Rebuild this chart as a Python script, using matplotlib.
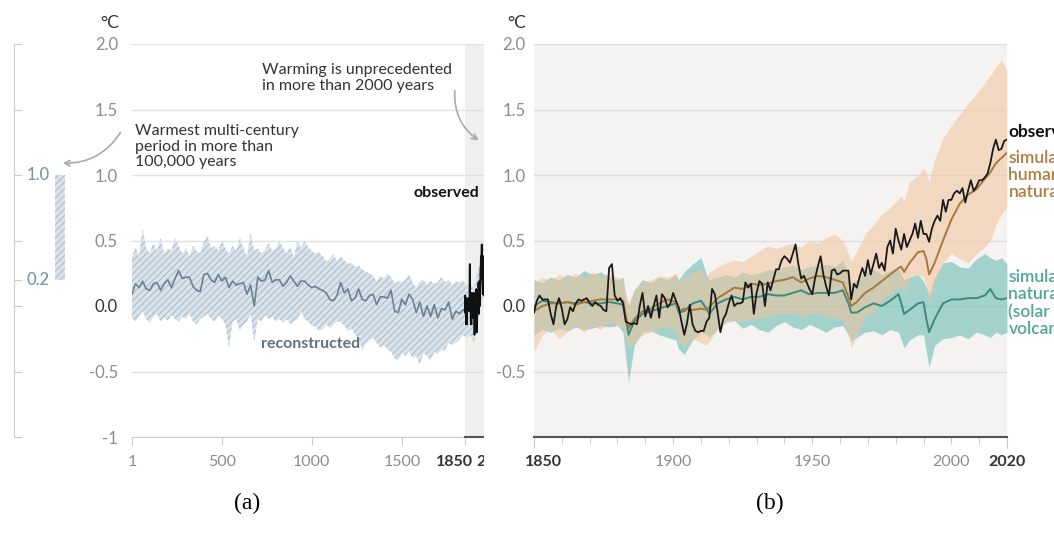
import matplotlib
matplotlib.use("Agg")
import matplotlib.pyplot as plt
from matplotlib.patches import Rectangle
from matplotlib.transforms import ScaledTranslation

plt.rcParams['font.family'] = ['Lato', 'DejaVu Sans']
plt.rcParams['hatch.linewidth'] = 0.7

# ---- panel (a): reconstructed 1-1960 (20-year steps) ----
recon_years = [1] + list(range(20, 1961, 20))
recon_mean = [0.09, 0.17, 0.14, 0.19, 0.13, 0.12, 0.17, 0.18, 0.12, 0.17,
              0.20, 0.14, 0.21, 0.27, 0.21, 0.22, 0.22, 0.15, 0.12, 0.11,
              0.24, 0.25, 0.20, 0.18, 0.24, 0.19, 0.22, 0.14, 0.19, 0.16,
              0.17, 0.18, 0.09, 0.16, 0.00, 0.22, 0.19, 0.20, 0.27, 0.18,
              0.20, 0.20, 0.15, 0.18, 0.23, 0.19, 0.15, 0.19, 0.19, 0.16,
              0.14, 0.15, 0.13, 0.12, 0.10, 0.05, 0.04, 0.08, 0.18, 0.10,
              0.13, 0.04, 0.06, 0.13, 0.05, 0.04, 0.08, 0.09, 0.01, 0.07,
              0.07, 0.06, 0.12, -0.04, -0.05, 0.05, 0.01, 0.09, 0.05, -0.05,
              0.03, -0.08, 0.00, -0.08, 0.01, -0.09, -0.02, -0.03, 0.03, -0.10,
              -0.04, -0.06, -0.03, -0.04, 0.00, -0.05, 0.02, 0.20, 0.35]
recon_hi = [0.37, 0.45, 0.38, 0.59, 0.44, 0.40, 0.48, 0.42, 0.52, 0.40,
            0.44, 0.42, 0.52, 0.46, 0.40, 0.44, 0.38, 0.46, 0.42, 0.40,
            0.49, 0.54, 0.44, 0.46, 0.42, 0.50, 0.44, 0.40, 0.46, 0.42,
            0.52, 0.44, 0.38, 0.56, 0.42, 0.44, 0.40, 0.43, 0.48, 0.42,
            0.44, 0.50, 0.44, 0.40, 0.45, 0.37, 0.50, 0.44, 0.50, 0.45,
            0.42, 0.40, 0.41, 0.38, 0.34, 0.36, 0.40, 0.34, 0.38, 0.35,
            0.32, 0.33, 0.30, 0.31, 0.28, 0.26, 0.25, 0.23, 0.19, 0.23,
            0.21, 0.25, 0.22, 0.17, 0.19, 0.18, 0.20, 0.24, 0.18, 0.14,
            0.19, 0.20, 0.16, 0.19, 0.17, 0.18, 0.22, 0.18, 0.20, 0.16,
            0.19, 0.18, 0.20, 0.15, 0.18, 0.12, 0.25, 0.42, 0.50]
recon_lo = [-0.09, -0.12, -0.08, -0.04, -0.10, -0.13, -0.08, -0.06, -0.12, -0.09,
            -0.11, -0.07, -0.10, -0.12, -0.08, -0.10, -0.06, -0.12, -0.14, -0.10,
            -0.08, -0.06, -0.10, -0.12, -0.07, -0.10, -0.14, -0.32, -0.12, -0.10,
            -0.19, -0.14, -0.12, -0.06, -0.28, -0.10, -0.12, -0.07, -0.10, -0.08,
            -0.12, -0.10, -0.13, -0.10, -0.14, -0.12, -0.10, -0.04, -0.10, -0.12,
            -0.15, -0.16, -0.19, -0.18, -0.14, -0.17, -0.14, -0.12, -0.12, -0.15,
            -0.19, -0.17, -0.22, -0.24, -0.34, -0.29, -0.26, -0.24, -0.28, -0.32,
            -0.30, -0.33, -0.35, -0.40, -0.42, -0.36, -0.38, -0.34, -0.40, -0.38,
            -0.45, -0.36, -0.38, -0.42, -0.35, -0.37, -0.33, -0.34, -0.28, -0.30,
            -0.28, -0.26, -0.22, -0.25, -0.22, -0.28, -0.15, 0.00, 0.15]
recon_range = (0.2, 1.0)  # warmest multi-century period bar

# ---- observed annual 1850-2020 ----
obs_years = list(range(1850, 2021))
obs = [-0.05, 0.04, 0.08, 0.05, 0.05, 0.05, -0.06, -0.14, 0.00, 0.06,
       -0.02, -0.14, -0.10, -0.01, -0.04, 0.02, 0.05, 0.04, 0.05, 0.06,
       0.02, 0.00, 0.03, 0.01, 0.00, -0.03, -0.04, 0.29, 0.32, 0.08,
       0.04, 0.06, 0.02, -0.12, -0.13, -0.14, -0.13, -0.14, 0.00, 0.10,
       -0.08, 0.00, -0.09, 0.00, 0.08, -0.09, 0.09, 0.06, -0.01, 0.02,
       0.10, 0.04, -0.01, -0.12, -0.22, -0.13, 0.01, -0.14, -0.19, -0.20,
       -0.19, -0.19, -0.12, -0.09, 0.13, 0.09, -0.05, -0.20, -0.10, -0.06,
       0.02, 0.08, 0.00, 0.02, 0.02, 0.03, 0.18, 0.14, 0.17, -0.06,
       0.10, 0.19, 0.17, 0.00, 0.18, 0.12, 0.20, 0.28, 0.28, 0.35,
       0.38, 0.36, 0.33, 0.40, 0.47, 0.32, 0.21, 0.23, 0.18, 0.13,
       0.09, 0.21, 0.30, 0.38, 0.24, 0.15, 0.08, 0.27, 0.28, 0.24,
       0.25, 0.27, 0.27, 0.27, 0.05, 0.17, 0.14, 0.22, 0.29, 0.23,
       0.35, 0.24, 0.32, 0.40, 0.29, 0.33, 0.27, 0.45, 0.50, 0.40,
       0.59, 0.50, 0.43, 0.55, 0.45, 0.50, 0.55, 0.63, 0.52, 0.65,
       0.55, 0.55, 0.49, 0.59, 0.65, 0.69, 0.65, 0.81, 0.72, 0.81,
       0.81, 0.86, 0.88, 0.86, 0.90, 0.79, 0.88, 0.96, 0.88, 0.91,
       0.96, 0.96, 0.98, 1.01, 1.09, 1.20, 1.27, 1.19, 1.20, 1.26,
       1.27]

# ---- panel (b): simulations ----
sim_years = [1850, 1853, 1856, 1859, 1862, 1865, 1868, 1871, 1874, 1877,
             1880, 1882, 1883, 1884, 1886, 1889, 1892, 1895, 1898, 1901,
             1902, 1904, 1907, 1910, 1912, 1913, 1916, 1919, 1922, 1925,
             1928, 1931, 1934, 1937, 1940, 1943, 1946, 1949, 1952, 1955,
             1958, 1961, 1963, 1964, 1966, 1969, 1972, 1975, 1978, 1981,
             1982, 1983, 1985, 1988, 1990, 1991, 1992, 1994, 1997, 2000,
             2003, 2006, 2009, 2012, 2014, 2016, 2018, 2020]
hn_mean = [-0.04, 0.00, 0.02, 0.02, 0.03, 0.01, 0.03, 0.04, 0.05, 0.05,
           0.05, 0.04, -0.08, -0.17, -0.10, -0.04, -0.02, 0.02, 0.05, 0.03,
           -0.04, -0.02, -0.03, -0.02, -0.03, -0.01, 0.06, 0.10, 0.14, 0.13,
           0.17, 0.16, 0.17, 0.19, 0.20, 0.22, 0.18, 0.21, 0.23, 0.22,
           0.20, 0.18, 0.07, 0.00, 0.03, 0.10, 0.14, 0.19, 0.24, 0.29,
           0.30, 0.26, 0.33, 0.41, 0.42, 0.36, 0.24, 0.33, 0.50, 0.66,
           0.78, 0.85, 0.89, 0.97, 1.02, 1.09, 1.13, 1.17]
hn_hi = [0.18, 0.22, 0.20, 0.24, 0.22, 0.25, 0.21, 0.26, 0.23, 0.25,
         0.22, 0.20, 0.10, 0.02, 0.12, 0.18, 0.20, 0.23, 0.22, 0.25,
         0.18, 0.22, 0.26, 0.28, 0.22, 0.26, 0.30, 0.33, 0.35, 0.34,
         0.38, 0.42, 0.46, 0.44, 0.46, 0.48, 0.45, 0.50, 0.48, 0.52,
         0.55, 0.50, 0.40, 0.34, 0.42, 0.55, 0.62, 0.70, 0.75, 0.82,
         0.84, 0.80, 0.95, 1.00, 1.05, 1.02, 0.95, 1.12, 1.28, 1.38,
         1.46, 1.55, 1.62, 1.70, 1.76, 1.82, 1.88, 1.80]
hn_lo = [-0.35, -0.22, -0.18, -0.25, -0.20, -0.15, -0.20, -0.15, -0.18, -0.12,
         -0.15, -0.16, -0.25, -0.32, -0.28, -0.22, -0.20, -0.17, -0.15, -0.20,
         -0.28, -0.30, -0.25, -0.28, -0.30, -0.27, -0.18, -0.13, -0.11, -0.12,
         -0.10, -0.09, -0.08, -0.06, -0.06, -0.05, -0.08, -0.06, -0.05, -0.08,
         -0.09, -0.11, -0.22, -0.32, -0.22, -0.08, -0.05, 0.04, 0.09, 0.14,
         0.15, 0.10, 0.22, 0.24, 0.22, 0.15, 0.02, 0.18, 0.33, 0.40,
         0.36, 0.33, 0.40, 0.45, 0.50, 0.62, 0.70, 0.75]
nat_mean = [0.00, 0.04, 0.03, 0.02, 0.03, 0.02, 0.03, 0.02, 0.02, 0.03,
            0.02, 0.01, -0.10, -0.22, -0.12, -0.06, -0.04, -0.02, 0.00, 0.02,
            -0.05, -0.04, 0.02, 0.04, -0.02, -0.06, 0.02, 0.05, 0.07, 0.05,
            0.07, 0.07, 0.09, 0.08, 0.08, 0.10, 0.12, 0.09, 0.10, 0.10,
            0.10, 0.12, 0.02, -0.05, -0.05, -0.01, 0.02, 0.00, 0.04, 0.09,
            0.02, -0.06, -0.03, 0.02, 0.03, -0.10, -0.20, -0.10, 0.02, 0.05,
            0.05, 0.06, 0.06, 0.08, 0.13, 0.06, 0.05, 0.06]
nat_hi = [0.20, 0.18, 0.22, 0.20, 0.24, 0.22, 0.27, 0.24, 0.26, 0.22,
          0.20, 0.22, 0.05, 0.00, 0.12, 0.20, 0.18, 0.22, 0.20, 0.24,
          0.20, 0.26, 0.32, 0.37, 0.24, 0.20, 0.22, 0.24, 0.22, 0.26,
          0.24, 0.25, 0.28, 0.27, 0.30, 0.31, 0.28, 0.30, 0.31, 0.32,
          0.30, 0.35, 0.25, 0.17, 0.20, 0.26, 0.28, 0.24, 0.27, 0.29,
          0.24, 0.20, 0.22, 0.24, 0.19, 0.14, 0.09, 0.22, 0.33, 0.34,
          0.30, 0.29, 0.36, 0.40, 0.37, 0.35, 0.37, 0.32]
nat_lo = [-0.22, -0.18, -0.20, -0.17, -0.19, -0.16, -0.18, -0.17, -0.15, -0.16,
          -0.15, -0.20, -0.40, -0.58, -0.30, -0.20, -0.19, -0.22, -0.24, -0.26,
          -0.33, -0.37, -0.26, -0.20, -0.22, -0.24, -0.17, -0.12, -0.11, -0.17,
          -0.14, -0.18, -0.20, -0.15, -0.12, -0.16, -0.18, -0.14, -0.17, -0.20,
          -0.16, -0.15, -0.22, -0.27, -0.24, -0.20, -0.19, -0.22, -0.18, -0.20,
          -0.26, -0.32, -0.26, -0.22, -0.22, -0.35, -0.47, -0.30, -0.25, -0.24,
          -0.22, -0.25, -0.20, -0.22, -0.24, -0.20, -0.22, -0.20]

yticks = [-1, -0.5, 0, 0.5, 1, 1.5, 2]
ylabels_a = ['-1', '-0.5', '0.0', '0.5', '1.0', '1.5', '2.0']
ylabels_b = ['', '-0.5', '0.0', '0.5', '1.0', '1.5', '2.0']

W, H = 1054, 537
def box(l, t, r, b):
    return [l / W, 1 - b / H, (r - l) / W, (b - t) / H]

fig = plt.figure(figsize=(W / 100, H / 100), dpi=100)

GRID = '#e1e1e1'
TICK_GREY = '#8c8c8c'
DARK = '#333333'
RECON = '#6b8293'
HATCH_FACE = '#dbe3ea'
HATCH_EDGE = '#a6b8c7'

def shift(label, dx_px):
    label.set_transform(label.get_transform() +
                        ScaledTranslation(dx_px / 100, 0, fig.dpi_scale_trans))

# ---------- small left axis ----------
ax_l = fig.add_axes(box(14, 44, 80, 437))
ax_l.set_xlim(0, 1)
ax_l.set_ylim(-1, 2)
ax_l.patch.set_alpha(0)
for s in ['top', 'right', 'bottom']:
    ax_l.spines[s].set_visible(False)
ax_l.spines['left'].set_color('#cccccc')
ax_l.set_xticks([])
ax_l.set_yticks([-1, -0.5, 0, 0.2, 0.5, 1, 1.5, 2])
ax_l.tick_params(axis='y', direction='in', length=6, color='#cccccc', labelleft=False)
ax_l.bar(0.695, recon_range[1] - recon_range[0], bottom=recon_range[0], width=0.15,
         facecolor=HATCH_FACE, edgecolor=HATCH_EDGE, hatch='/////', linewidth=0)
for v in recon_range:
    ax_l.text(0.19, v, f'{v:.1f}', color='#7d95a8', fontsize=12, ha='left',
              va='center', fontweight='medium')

# ---------- panel (a) ----------
ax_a = fig.add_axes(box(132, 44, 132 + 2019 * 0.18, 437))
ax_a.set_zorder(0)
ax_a.set_xlim(1, 2020)
ax_a.set_ylim(-1, 2)
ax_a.axvspan(1850, 2020, color='#f1efed', lw=0, zorder=0)
ax_a.set_yticks(yticks)
ax_a.set_yticklabels(ylabels_a)
ax_a.grid(axis='y', color=GRID, lw=1, zorder=1)
ax_a.set_axisbelow(True)
ax_a.fill_between(recon_years, recon_lo, recon_hi, facecolor=HATCH_FACE,
                  edgecolor=HATCH_EDGE, hatch='/////', linewidth=0, zorder=2)
ax_a.plot(recon_years, recon_mean, color=RECON, lw=1.2, zorder=3)
ax_a.plot(obs_years, obs, color='#111111', lw=1.3, zorder=4)
for s in ['top', 'right', 'left']:
    ax_a.spines[s].set_visible(False)
ax_a.spines['bottom'].set_color('#cccccc')
ax_a.plot([1850, 2020], [-1, -1], color='#555555', lw=1.5, clip_on=False, zorder=5)
ax_a.set_xticks([1, 500, 1000, 1500, 1850, 2020])
ax_a.set_xticklabels(['1', '500', '1000', '1500', '1850', '2020'])
ax_a.tick_params(axis='x', direction='out', length=6, color='#cccccc',
                 labelsize=11.5, labelcolor=TICK_GREY, pad=7)
ax_a.tick_params(axis='y', length=0, labelsize=12, labelcolor=TICK_GREY, pad=10)
for i in (4, 5):
    ax_a.get_xticklabels()[i].set_fontweight('bold')
    ax_a.get_xticklabels()[i].set_color(DARK)
    ax_a.xaxis.get_major_ticks()[i].tick1line.set_color('#555555')
shift(ax_a.get_xticklabels()[4], -10)
ax_a.get_yticklabels()[2].set_color(DARK)

ax_a.text(723, 1.74, 'Warming is unprecedented\nin more than 2000 years',
          ha='left', va='center', fontsize=11.5, color=DARK, linespacing=1.15)
ax_a.text(18, 1.215, 'Warmest multi-century\nperiod in more than\n100,000 years',
          ha='left', va='center', fontsize=11.5, color=DARK, linespacing=1.15)
ax_a.text(1929, 0.86, 'observed', ha='right', va='center', fontsize=11.5,
          fontweight='bold', color='#111111')
ax_a.text(718, -0.29, 'reconstructed', ha='left', va='center', fontsize=11.5,
          fontweight='bold', color='#5d7282')

arrow = dict(arrowstyle='->', color='#aaaaaa', lw=1.2)
ax_a.annotate('', xy=(481, H - 142), xycoords='figure pixels',
              xytext=(455, H - 88), textcoords='figure pixels',
              arrowprops=dict(arrow, connectionstyle='arc3,rad=0.3'),
              annotation_clip=False)
ax_a.annotate('', xy=(60, H - 163), xycoords='figure pixels',
              xytext=(122, H - 130), textcoords='figure pixels',
              arrowprops=dict(arrow, connectionstyle='arc3,rad=-0.3'),
              annotation_clip=False)

# white strip hiding the end of panel (a)
fig.add_artist(Rectangle((483.5 / W, 0), (533 - 483.5) / W, 1,
                         transform=fig.transFigure, facecolor='white',
                         edgecolor='none', zorder=0.5))

# ---------- panel (b) ----------
ax_b = fig.add_axes(box(534, 44, 1007, 437))
ax_b.set_zorder(1)
ax_b.set_facecolor('#f5f3f1')
ax_b.set_xlim(1850, 2020)
ax_b.set_ylim(-1, 2)
ax_b.set_yticks(yticks)
ax_b.set_yticklabels(ylabels_b)
ax_b.grid(axis='y', color='#dedede', lw=1)
ax_b.set_axisbelow(True)
ax_b.fill_between(sim_years, nat_lo, nat_hi, color='#52b3aa', alpha=0.5, lw=0, zorder=2)
ax_b.fill_between(sim_years, hn_lo, hn_hi, color='#f2c39b', alpha=0.55, lw=0, zorder=2)
ax_b.plot(sim_years, nat_mean, color='#3b8a80', lw=1.4, zorder=3)
ax_b.plot(sim_years, hn_mean, color='#a8773a', lw=1.4, zorder=3)
ax_b.plot(obs_years, obs, color='#1a1a1a', lw=1.3, zorder=4)
for s in ['top', 'right', 'left']:
    ax_b.spines[s].set_visible(False)
ax_b.spines['bottom'].set_color('#555555')
ax_b.spines['bottom'].set_linewidth(1.5)
ax_b.set_xticks([1850, 1900, 1950, 2000, 2020])
ax_b.set_xticklabels(['1850', '1900', '1950', '2000', '2020'])
ax_b.set_xticks(range(1860, 2020, 10), minor=True)
ax_b.tick_params(axis='x', which='major', direction='out', length=5, color='#c8c8c8',
                 labelsize=11.5, labelcolor=TICK_GREY, pad=8)
ax_b.tick_params(axis='x', which='minor', direction='out', length=5, color='#c8c8c8')
ax_b.tick_params(axis='y', length=0, labelsize=12, labelcolor=TICK_GREY, pad=6)
for i in (0, 4):
    ax_b.get_xticklabels()[i].set_fontweight('bold')
    ax_b.get_xticklabels()[i].set_color(DARK)
    t = ax_b.xaxis.get_major_ticks()[i].tick1line
    t.set_color('#555555')
    t.set_markersize(8)
shift(ax_b.get_xticklabels()[0], 9)
ax_b.get_yticklabels()[2].set_color(DARK)

ax_b.text(2020.5, 1.33, 'observed', ha='left', va='center', fontsize=12.5,
          fontweight='bold', color='#111111', clip_on=False)
ax_b.text(2020.5, 1.0, 'simulated\nhuman &\nnatural', ha='left', va='center',
          fontsize=12.5, fontweight='semibold', color='#b07d3f', linespacing=1.1)
ax_b.text(2020.5, 0.02, 'simulated\nnatural only\n(solar &\nvolcanic)', ha='left',
          va='center', fontsize=12.5, fontweight='semibold', color='#4fa59b',
          linespacing=1.1)

# units and panel letters
fig.text(100 / W, 1 - 23 / H, '°C', fontsize=12.5, color=DARK, ha='left', va='center')
fig.text(507 / W, 1 - 23 / H, '°C', fontsize=12.5, color=DARK, ha='left', va='center')
fig.text(247 / W, 1 - 503 / H, '(a)', fontsize=17, family='Liberation Serif',
         ha='center', va='center')
fig.text(770 / W, 1 - 503 / H, '(b)', fontsize=17, family='Liberation Serif',
         ha='center', va='center')

fig.savefig('out.png', dpi=100)
